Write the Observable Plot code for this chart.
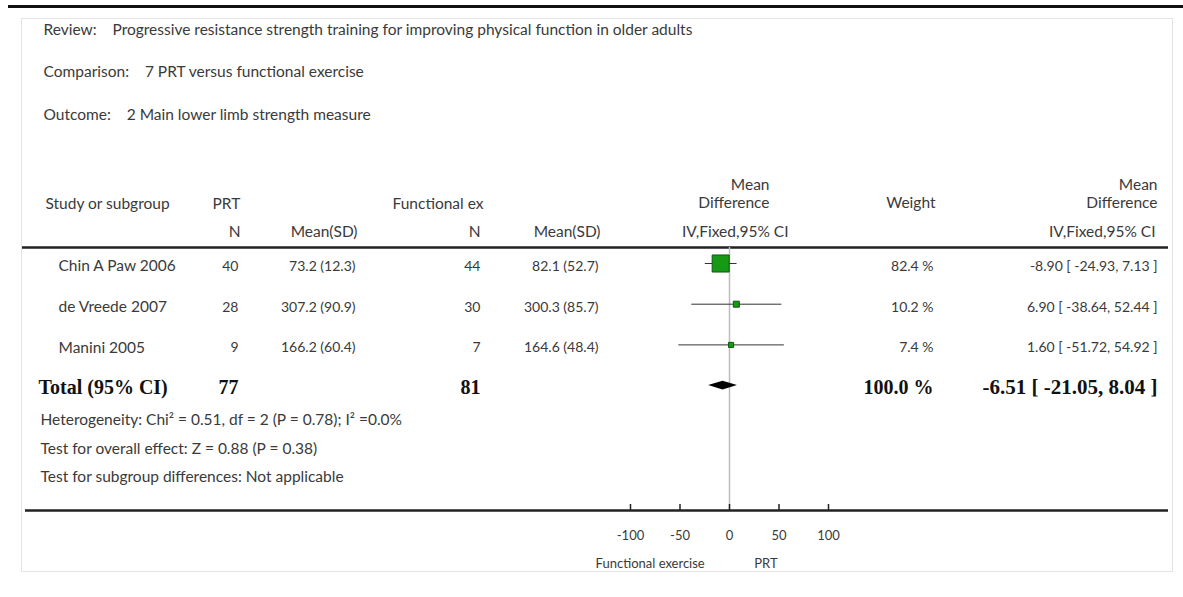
<!DOCTYPE html>
<html><head><meta charset="utf-8">
<script src="https://cdn.jsdelivr.net/npm/d3@7"></script>
<script src="https://cdn.jsdelivr.net/npm/@observablehq/plot@0.6"></script>
<style>body{margin:0;background:#fff}</style>
</head><body><div id="chart"></div>
<script>
// ---- data ----
const studies = ["Chin A Paw 2006", "de Vreede 2007", "Manini 2005"];
const prtN = [40, 28, 9];
const prtMean = [73.2, 307.2, 166.2];
const prtSD = [12.3, 90.9, 60.4];
const funcN = [44, 30, 7];
const funcMean = [82.1, 300.3, 164.6];
const funcSD = [52.7, 85.7, 48.4];
const md = [-8.90, 6.90, 1.60];
const ciLo = [-24.93, -38.64, -51.72];
const ciHi = [7.13, 52.44, 54.92];
const weight = [82.4, 10.2, 7.4];
const totalN = [77, 81];
const totalMD = -6.51, totalLo = -21.05, totalHi = 8.04, totalWeight = 100.0;
const xTicks = [-100, -50, 0, 50, 100];
const titleLabels = ["Review:", "Comparison:", "Outcome:"];
const titleValues = ["Progressive resistance strength training for improving physical function in older adults",
  "7 PRT versus functional exercise", "2 Main lower limb strength measure"];
const notes = ["Heterogeneity: Chi\u00B2 = 0.51, df = 2 (P = 0.78); I\u00B2 =0.0%",
  "Test for overall effect: Z = 0.88 (P = 0.38)",
  "Test for subgroup differences: Not applicable"];
const favourLabels = ["Functional exercise", "PRT"];

// ---- layout ----
const W = 1183, H = 597;
const rowTop = 263, rowStep = 40.7;
const totalY = rowTop + 3 * rowStep;
const headLineY = 247, axisY = 510;
const sans = "Lato, 'Open Sans', sans-serif", serif = "'Liberation Serif', 'DejaVu Serif', serif";
const ink = "#3a3a3a";
const fsText = 15.5, fsNum = 14;
const nb = n => "\u00A0".repeat(n);

const rows = studies.map((s, i) => ({
  study: s, prtN: prtN[i], prtMS: `${prtMean[i].toFixed(1)} (${prtSD[i].toFixed(1)})`,
  funcN: funcN[i], funcMS: `${funcMean[i].toFixed(1)} (${funcSD[i].toFixed(1)})`,
  md: md[i], lo: ciLo[i], hi: ciHi[i], w: weight[i],
  wTxt: `${weight[i].toFixed(1)} %`,
  ci: `${md[i].toFixed(2)} [ ${ciLo[i].toFixed(2)}, ${ciHi[i].toFixed(2)} ]`,
  y: rowTop + i * rowStep
}));

function col(data, px, opts) {
  return Plot.text(data, Object.assign({frameAnchor: "left", dx: px, fontFamily: sans, fontSize: fsText, fill: ink}, opts));
}

const titles = titleLabels.map((t, i) => ({
  text: t + nb(4) + titleValues[i], y: [30, 72, 115][i]
}));
const headers = [
  {t: "Study or subgroup", x: 45, y: 204, a: "start"},
  {t: "PRT", x: 212, y: 204, a: "start"},
  {t: "Functional ex", x: 392, y: 204, a: "start"},
  {t: "N", x: 240, y: 232, a: "end"},
  {t: "Mean(SD)", x: 357, y: 232, a: "end"},
  {t: "N", x: 480, y: 232, a: "end"},
  {t: "Mean(SD)", x: 600, y: 232, a: "end"},
  {t: "Mean", x: 769, y: 185, a: "end"},
  {t: "Difference", x: 769, y: 203, a: "end"},
  {t: "IV,Fixed,95% CI", x: 788, y: 232, a: "end"},
  {t: "Weight", x: 935, y: 203, a: "end"},
  {t: "Mean", x: 1157, y: 185, a: "end"},
  {t: "Difference", x: 1157, y: 203, a: "end"},
  {t: "IV,Fixed,95% CI", x: 1155, y: 232, a: "end"}
];
const totalRow = [{y: totalY}];
const diamond = [
  {x: totalLo, h: 0}, {x: totalMD, h: 4.3}, {x: totalHi, h: 0}
];
const boldOpts = {fontFamily: serif, fontWeight: "bold", fontSize: 20, fill: "#111", dy: 2};

const chart = Plot.plot({
  width: W, height: H, margin: 0,
  x: {domain: [-100, 100], range: [630, 828], axis: null},
  y: {domain: [0, H], range: [0, H], axis: null},
  r: {type: "sqrt", domain: [0, 100], range: [0, 10.6]},
  style: {fontFamily: sans, background: "#fff"},
  marks: [
    Plot.frame({insetLeft: 21, insetTop: 18, insetRight: 11, insetBottom: 26, stroke: "#e4e4e4"}),
    Plot.ruleY([6], {y: d => d, insetLeft: 8, stroke: "#111", strokeWidth: 3}),
    // titles and headers
    col(titles, 43, {y: "y", text: "text", textAnchor: "start"}),
    ...headers.map(h => col([h], h.x, {y: "y", text: "t", textAnchor: h.a})),
    Plot.ruleY([headLineY], {y: d => d, insetLeft: 22, insetRight: 15, stroke: "#222", strokeWidth: 2.5}),
    // forest
    Plot.ruleX([0], {x: d => d, y1: headLineY, y2: axisY, stroke: "#bdbdbd", strokeWidth: 1.5}),
    Plot.link(rows, {x1: "lo", x2: "hi", y1: "y", y2: "y", stroke: "#333", strokeWidth: 1}),
    Plot.dot(rows, {x: "md", y: "y", r: "w", symbol: "square", fill: "#169a16", stroke: "#0b5a0b", strokeWidth: 1}),
    Plot.areaY(diamond, {x: "x", y1: d => totalY - d.h, y2: d => totalY + d.h, fill: "#000", curve: "linear"}),
    // study columns
    col(rows, 58, {y: "y", text: "study", textAnchor: "start", dy: 3}),
    col(rows, 238, {y: "y", text: "prtN", textAnchor: "end", dy: 3, fontSize: fsNum}),
    col(rows, 355, {y: "y", text: "prtMS", textAnchor: "end", dy: 3, fontSize: fsNum}),
    col(rows, 480, {y: "y", text: "funcN", textAnchor: "end", dy: 3, fontSize: fsNum}),
    col(rows, 598, {y: "y", text: "funcMS", textAnchor: "end", dy: 3, fontSize: fsNum}),
    col(rows, 933, {y: "y", text: "wTxt", textAnchor: "end", dy: 3, fontSize: fsNum}),
    col(rows, 1157, {y: "y", text: "ci", textAnchor: "end", dy: 3, fontSize: fsNum, letterSpacing: -0.3}),
    // total row
    col(totalRow, 38, {y: "y", text: () => "Total (95% CI)", textAnchor: "start", ...boldOpts}),
    col(totalRow, 238, {y: "y", text: () => String(totalN[0]), textAnchor: "end", ...boldOpts}),
    col(totalRow, 480, {y: "y", text: () => String(totalN[1]), textAnchor: "end", ...boldOpts}),
    col(totalRow, 933, {y: "y", text: () => `${totalWeight.toFixed(1)} %`, textAnchor: "end", ...boldOpts}),
    col(totalRow, 1157, {y: "y", text: () => `${totalMD.toFixed(2)} [ ${totalLo.toFixed(2)}, ${totalHi.toFixed(2)} ]`, textAnchor: "end", ...boldOpts, fontSize: 21, letterSpacing: 1.4}),
    // notes
    col(notes, 40, {y: (d, i) => [420, 449, 477][i], text: d => d, textAnchor: "start"}),
    // axis
    Plot.ruleY([axisY], {y: d => d, insetLeft: 25, insetRight: 15, stroke: "#222", strokeWidth: 2.5}),
    Plot.ruleX(xTicks, {x: d => d, y1: axisY - 6, y2: axisY, stroke: "#222", strokeWidth: 1.5}),
    Plot.text(xTicks, {x: d => d, y: 535, text: d => String(d), fontSize: 13, fill: ink}),
    Plot.text([favourLabels[0]], {x: -25, y: 563, text: d => d, textAnchor: "end", fontSize: 13, fill: ink}),
    Plot.text([favourLabels[1]], {x: 25, y: 563, text: d => d, textAnchor: "start", fontSize: 13, fill: ink})
  ]
});
document.getElementById("chart").append(chart);
</script>
</body></html>
